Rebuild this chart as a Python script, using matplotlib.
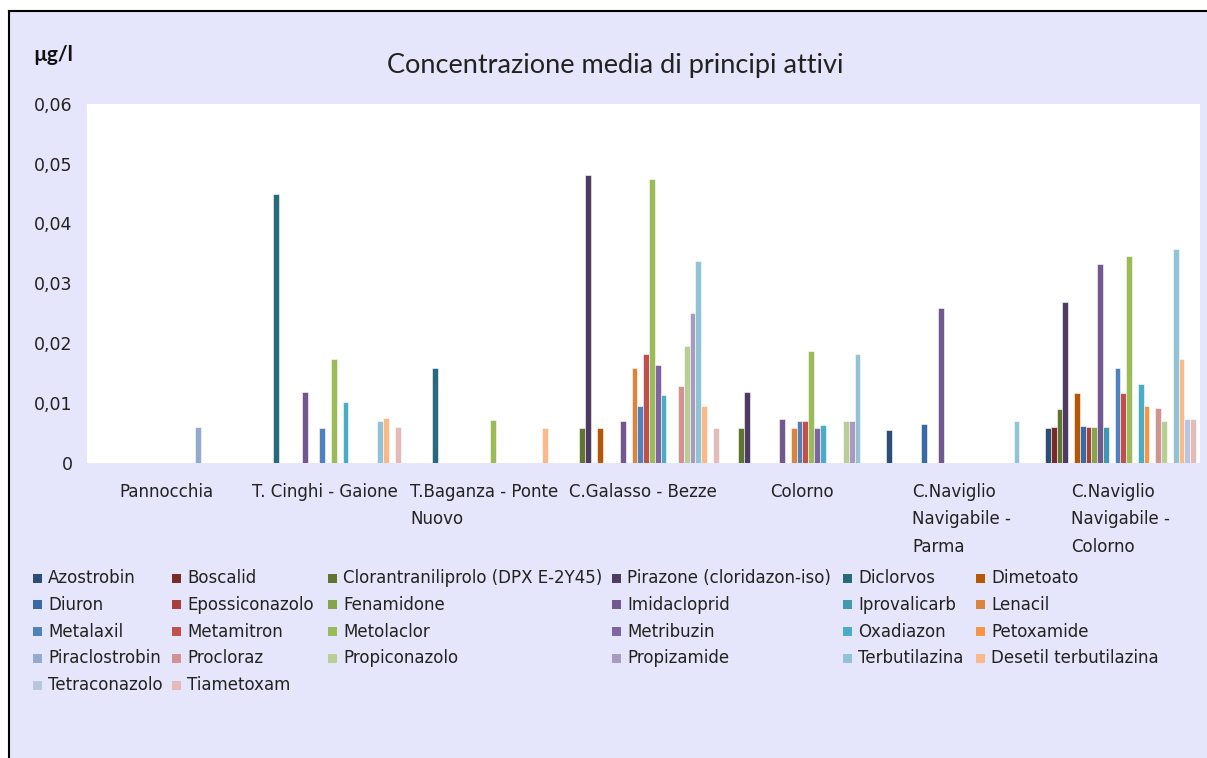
import matplotlib
matplotlib.use("Agg")
import matplotlib.pyplot as plt
from matplotlib.patches import Rectangle
import numpy as np

# sites (x categories)
sites = ["Pannocchia", "T. Cinghi - Gaione", "T.Baganza - Ponte\nNuovo",
         "C.Galasso - Bezze", "Colorno", "C.Naviglio\nNavigabile -\nParma",
         "C.Naviglio\nNavigabile -\nColorno"]

# active substances (series)
substances = ["Azostrobin", "Boscalid", "Clorantraniliprolo (DPX E-2Y45)",
              "Pirazone (cloridazon-iso)", "Diclorvos", "Dimetoato",
              "Diuron", "Epossiconazolo", "Fenamidone", "Imidacloprid",
              "Iprovalicarb", "Lenacil", "Metalaxil", "Metamitron",
              "Metolaclor", "Metribuzin", "Oxadiazon", "Petoxamide",
              "Piraclostrobin", "Procloraz", "Propiconazolo", "Propizamide",
              "Terbutilazina", "Desetil terbutilazina", "Tetraconazolo",
              "Tiametoxam"]

colors = ["#2C4D75", "#772C2A", "#5F7530", "#4D3B62", "#276A7C", "#B65708",
          "#3A6AA3", "#A5403D", "#86A44A", "#71588F", "#4198AF", "#DB843D",
          "#4F81BD", "#C0504D", "#9BBB59", "#8064A2", "#4BACC6", "#F79646",
          "#93A9CF", "#D19392", "#B9CD96", "#A99BBD", "#92C3D4", "#F9B98A",
          "#B8C7DD", "#E4BBB9"]

# mean concentration (ug/l) per site, one value per substance (0 = not found)
pannocchia = [0, 0, 0, 0, 0, 0, 0, 0, 0, 0, 0, 0, 0,
              0, 0, 0, 0, 0, 0.006, 0, 0, 0, 0, 0, 0, 0]
cinghi = [0, 0, 0, 0, 0.045, 0, 0, 0, 0, 0.0118, 0, 0, 0.0058,
          0, 0.0174, 0, 0.0101, 0, 0, 0, 0, 0, 0.0069, 0.0074, 0, 0.006]
baganza = [0, 0, 0, 0, 0.0158, 0, 0, 0, 0, 0, 0, 0, 0,
           0, 0.0071, 0, 0, 0, 0, 0, 0, 0, 0, 0.0058, 0, 0]
galasso = [0, 0, 0.0058, 0.0482, 0, 0.0058, 0, 0, 0, 0.0069, 0, 0.0158, 0.0094,
           0.0182, 0.0475, 0.0163, 0.0113, 0, 0, 0.0128, 0.0195, 0.0251, 0.0338, 0.0094, 0, 0.0058]
colorno = [0, 0, 0.0058, 0.0118, 0, 0, 0, 0, 0, 0.0073, 0, 0.0058, 0.007,
           0.007, 0.0187, 0.0058, 0.0062, 0, 0, 0, 0.007, 0.007, 0.0182, 0, 0, 0]
naviglio_parma = [0.0054, 0, 0, 0, 0, 0, 0.0064, 0, 0, 0.0258, 0, 0, 0,
                  0, 0, 0, 0, 0, 0, 0, 0, 0, 0.0069, 0, 0, 0]
naviglio_colorno = [0.0057, 0.006, 0.0089, 0.0268, 0, 0.0117, 0.0061, 0.006, 0.006, 0.0332, 0.006, 0, 0.0158,
                    0.0117, 0.0345, 0, 0.0131, 0.0094, 0, 0.0091, 0.0069, 0, 0.0358, 0.0174, 0.0073, 0.0073]

site_values = np.array([pannocchia, cinghi, baganza, galasso, colorno,
                        naviglio_parma, naviglio_colorno])

yticks = [0, 0.01, 0.02, 0.03, 0.04, 0.05, 0.06]
ytick_labels = ["0", "0,01", "0,02", "0,03", "0,04", "0,05", "0,06"]

W, H = 1207, 758
fig = plt.figure(figsize=(W / 100, H / 100), dpi=100, facecolor="white")

# lavender chart area with black frame (top and left)
fig.patches.append(Rectangle((8.5 / W, 0), 1, 1 - 11 / H, transform=fig.transFigure,
                             facecolor="#E5E5FB", edgecolor="none", zorder=-5))
fig.add_artist(plt.Line2D([8.5 / W, 1], [1 - 11 / H, 1 - 11 / H], color="black", lw=1.5,
                          transform=fig.transFigure, zorder=-4))
fig.add_artist(plt.Line2D([8.5 / W, 8.5 / W], [0, 1 - 11 / H], color="black", lw=1.5,
                          transform=fig.transFigure, zorder=-4))

ax = fig.add_axes([86.5 / W, 1 - 462.5 / H, (1200 - 86.5) / W, (462.5 - 104) / H])
ax.set_zorder(2)
ax.set_facecolor("white")

n = len(substances)
gap = 1.4
bw = 1.0 / (n + gap)
x = np.arange(len(sites))
for j, name in enumerate(substances):
    vals = site_values[:, j]
    mask = vals > 0
    xpos = x - 0.5 + bw * (gap / 2 + j + 0.5)
    if mask.any():
        ax.bar(xpos[mask], vals[mask], width=bw, color=colors[j],
               edgecolor="white", linewidth=0.4)

ax.set_xlim(-0.5, len(sites) - 0.5)
ax.set_ylim(0, 0.06)
ax.set_yticks(yticks)
ax.set_yticklabels(ytick_labels, fontsize=12.5, family="DejaVu Sans", color="#222222")
ax.set_xticks(x)
ax.set_xticklabels(sites, fontsize=12, family="DejaVu Sans", color="#222222",
                   multialignment="left", linespacing=1.65, va="top")
ax.tick_params(axis="y", length=0, pad=10)
ax.tick_params(axis="x", length=0, pad=15)
for s in ax.spines.values():
    s.set_visible(False)

fig.text(615 / W, 1 - 65 / H, "Concentrazione media di principi attivi",
         ha="center", va="center", fontsize=19.5, family="Lato", color="#222222")
fig.text(33 / W, 1 - 55 / H, "µg/l", ha="left", va="center", fontsize=15,
         family="Lato", fontweight="bold", color="#111111")

# legend laid out like Excel: row by row, fixed column positions (pixels)
col_x = [33, 172, 328, 612, 843, 976]
row_y0, row_dy = 578, 26.8
sq = 9
for j, name in enumerate(substances):
    r, c = divmod(j, len(col_x))
    mx, my = col_x[c], row_y0 + r * row_dy
    fig.patches.append(Rectangle((mx / W, 1 - (my + sq / 2) / H), sq / W, sq / H,
                                 transform=fig.transFigure, facecolor=colors[j],
                                 edgecolor="none", zorder=3))
    fig.text((mx + sq + 6) / W, 1 - my / H, name, ha="left", va="center",
             fontsize=12, family="DejaVu Sans", color="#222222", zorder=3)

fig.savefig("out.png", dpi=100, facecolor="white")
